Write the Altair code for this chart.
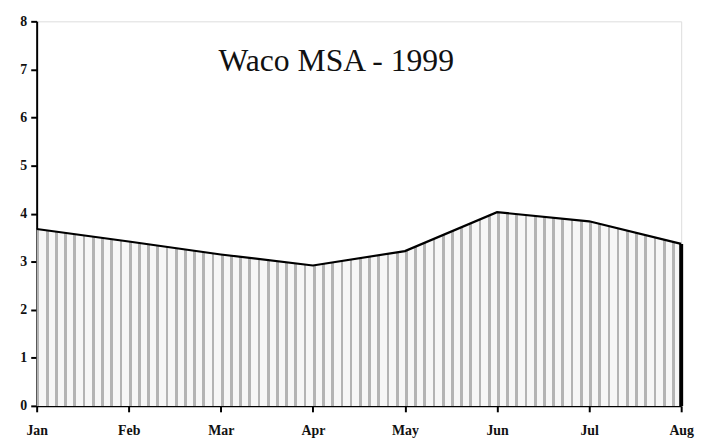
import altair as alt
import pandas as pd

months = ["Jan", "Feb", "Mar", "Apr", "May", "Jun", "Jul", "Aug"]
rates = [3.68, 3.42, 3.15, 2.92, 3.22, 4.03, 3.84, 3.37]
title_text = "Waco MSA - 1999"

df = pd.DataFrame({"month": months, "rate": rates})

# vertical stripe gradient to mimic the stippled fill
n_stripes = 70
stops = []
for i in range(n_stripes):
    a = i / n_stripes
    b = (i + 0.3) / n_stripes
    c = (i + 1) / n_stripes
    stops += [
        {"offset": a, "color": "#b4b4b4"},
        {"offset": b, "color": "#b4b4b4"},
        {"offset": b, "color": "#f7f7f7"},
        {"offset": c, "color": "#f7f7f7"},
    ]
grad = alt.LinearGradient(gradient="linear", x1=0, x2=1, y1=0, y2=0, stops=stops)

xenc = alt.X("month:O", sort=months, scale=alt.Scale(type="point", padding=0),
             axis=alt.Axis(title=None, labelAngle=0, labelFont="Liberation Serif",
                           labelFontSize=14, labelFontWeight="bold", labelColor="#111",
                           labelPadding=12, tickSize=6, tickColor="#000", domainColor="#000",
                           domainWidth=2, tickWidth=2, grid=False))
yenc = alt.Y("rate:Q", scale=alt.Scale(domain=[0, 8]),
             axis=alt.Axis(title=None, values=list(range(0, 9)), labelFont="Liberation Serif",
                           labelFontSize=14, labelFontWeight="bold", labelColor="#111",
                           labelPadding=4, tickSize=6, tickColor="#000", domainColor="#000",
                           domainWidth=2, tickWidth=2, grid=False))

area = alt.Chart(df).mark_area(interpolate="linear", fill=grad, opacity=1).encode(x=xenc, y=yenc)
line = alt.Chart(df).mark_line(interpolate="linear", color="#000", strokeWidth=2.2).encode(
    x=alt.X("month:O", sort=months), y="rate:Q")
edge = alt.Chart(df[df.month == "Aug"]).mark_rule(color="#000", strokeWidth=4).encode(
    x=alt.X("month:O", sort=months), y=alt.Y("rate:Q"), y2=alt.datum(0))
title = alt.Chart(pd.DataFrame({"t": [title_text]})).mark_text(
    font="Liberation Serif", fontSize=32, color="#111", align="center", baseline="alphabetic"
).encode(text="t:N", x=alt.value(303), y=alt.value(50))

chart = alt.layer(area, line, edge, title).properties(
    width=652, height=389,
    autosize=alt.AutoSizeParams(type="none"),
    padding={"left": 29, "top": 11, "right": 16, "bottom": 30},
).configure_view(stroke=None).configure(background="#ffffff")

chart.save("out.html", embed_options={"renderer": "svg", "actions": False})
